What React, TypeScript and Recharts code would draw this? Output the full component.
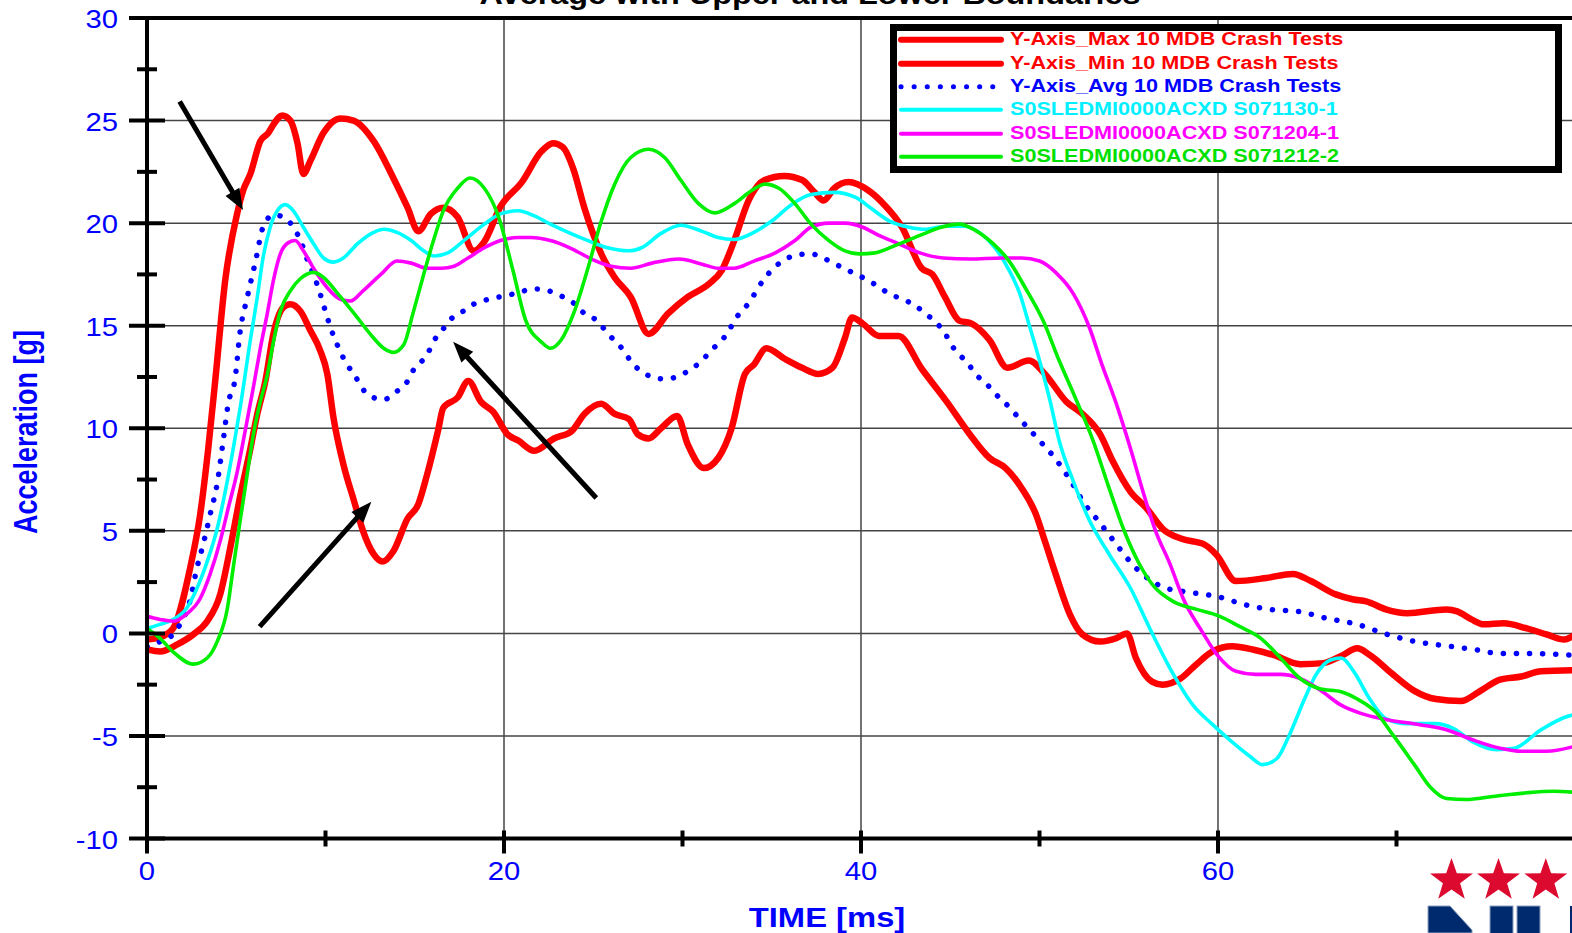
import React from 'react';
import { LineChart, Line, XAxis, YAxis, CartesianGrid, ReferenceLine, Legend } from 'recharts';

// ---- data: [time ms, acceleration g] ----
const maxCurve: [number, number][] = [
  [0, -0.3], [0.7, -0.2], [1.46, 0.24], [2.42, 3.2], [2.98, 5.8], [3.43, 9.0], [3.82, 12.3], [4.38, 17.2],
  [5.06, 20.5], [5.39, 21.6], [5.79, 22.4], [6.35, 24.0], [6.8, 24.4], [7.08, 24.8], [7.58, 25.25], [8.03, 25.0],
  [8.43, 23.9], [8.76, 22.4], [9.16, 23.05], [9.89, 24.4], [10.84, 25.1], [11.57, 25.0], [12.7, 24.0], [13.8, 22.2],
  [14.6, 20.75], [15.2, 19.6], [15.9, 20.45], [16.6, 20.75], [17.4, 20.3], [18.3, 18.65], [18.9, 19.1], [19.8, 20.8],
  [21.0, 22.0], [22.1, 23.5], [22.75, 23.9], [23.3, 23.7], [23.9, 22.6], [24.5, 20.75], [25.45, 18.5], [26.2, 17.35],
  [27.1, 16.4], [28.1, 14.6], [29.2, 15.6], [30.3, 16.4], [31.5, 17.05], [32.2, 17.7], [32.9, 19.15], [33.7, 21.1],
  [34.6, 22.1], [35.7, 22.3], [36.7, 22.1], [37.4, 21.5], [37.9, 21.1], [38.5, 21.7], [39.3, 22.0], [40.4, 21.6],
  [41.3, 20.9], [42.3, 19.8], [43.4, 17.8], [44.0, 17.5], [44.7, 16.4], [45.5, 15.25], [46.2, 15.1], [47.2, 14.3],
  [48.2, 12.95], [49.4, 13.3], [50.3, 12.65], [51.5, 11.3], [52.4, 10.7], [53.4, 9.7], [54.1, 8.4], [55.1, 6.9],
  [56.0, 6.1], [56.9, 5.1], [58.0, 4.6], [59.2, 4.35], [59.9, 3.85], [61.0, 2.55], [62.7, 2.7], [64.2, 2.9],
  [65.2, 2.55], [66.6, 1.9], [67.6, 1.65], [68.3, 1.56], [69.4, 1.17], [70.6, 0.98], [72.8, 1.17], [73.4, 1.07],
  [74.2, 0.68], [74.9, 0.44], [76.0, 0.49], [77.3, 0.24], [78.4, -0.05], [79.4, -0.3], [80, -0.05],
];

const minCurve: [number, number][] = [
  [0, -0.78], [0.73, -0.88], [1.7, -0.54], [2.6, -0.05], [3.37, 0.59], [4.1, 1.9], [4.66, 4.15], [5.2, 6.6],
  [5.79, 9.0], [6.18, 10.7], [6.63, 12.3], [7.08, 14.6], [7.64, 15.9], [8.03, 16.05], [8.6, 15.7], [9.16, 14.75],
  [9.7, 13.8], [10.1, 12.65], [10.45, 10.5], [11.0, 8.25], [11.6, 6.45], [12.1, 5.0], [12.7, 3.86], [13.2, 3.5],
  [13.8, 4.0], [14.6, 5.6], [15.2, 6.3], [15.7, 7.77], [16.3, 9.87], [16.6, 11.0], [17.4, 11.5], [18.0, 12.3],
  [18.7, 11.3], [19.4, 10.8], [20.2, 9.7], [20.8, 9.4], [21.7, 8.9], [22.8, 9.5], [23.8, 9.87], [24.5, 10.7],
  [25.45, 11.2], [26.2, 10.7], [27.0, 10.45], [27.5, 9.7], [28.1, 9.5], [28.8, 10.0], [29.7, 10.6], [30.3, 9.2],
  [31.2, 8.06], [32.0, 8.55], [32.75, 10.0], [33.5, 12.65], [34.0, 13.1], [34.7, 13.9], [35.7, 13.4], [36.7, 12.95],
  [37.6, 12.65], [38.4, 12.95], [39.1, 14.4], [39.5, 15.4], [40.1, 15.1], [41.0, 14.5], [42.1, 14.5], [43.4, 12.9],
  [44.8, 11.3], [46.1, 9.7], [47.2, 8.55], [48.1, 8.06], [49.0, 7.08], [49.8, 5.8], [50.3, 4.5], [50.9, 2.9],
  [51.7, 0.93], [52.4, -0.05], [53.4, -0.4], [54.3, -0.24], [54.9, 0.0], [55.4, -1.2], [56.3, -2.35], [56.9, -2.5],
  [57.9, -2.2], [58.8, -1.5], [59.7, -0.88], [60.8, -0.63], [62.0, -0.8], [63.1, -1.05], [64.6, -1.5], [65.9, -1.45],
  [66.9, -1.1], [67.8, -0.73], [68.5, -1.05], [69.8, -2.0], [71.0, -2.8], [72.2, -3.2], [73.6, -3.3], [74.7, -2.8],
  [75.8, -2.25], [77.0, -2.1], [78.1, -1.85], [80, -1.8],
];

const avgCurve: [number, number][] = [
  [0, -0.63], [0.73, -0.4], [1.46, -0.05], [1.85, 0.44], [2.4, 1.56], [2.8, 3.2], [3.15, 4.35], [3.54, 5.8],
  [3.93, 7.3], [4.27, 9.4], [4.55, 11.2], [4.94, 12.45], [5.2, 14.6], [5.62, 16.4], [6.07, 18.1], [6.5, 19.8],
  [7.08, 20.4], [7.64, 20.3], [8.2, 19.8], [8.6, 19.15], [8.99, 18.2], [9.33, 17.5], [9.72, 16.5], [10.1, 15.4],
  [10.45, 14.5], [10.8, 13.8], [11.2, 13.1], [11.6, 12.65], [11.97, 12.06], [12.5, 11.57], [13.26, 11.4], [14.0, 11.8],
  [14.6, 12.3], [14.9, 12.8], [15.7, 13.6], [16.1, 14.3], [16.6, 14.85], [17.0, 15.3], [17.7, 15.7], [18.3, 16.05],
  [19.2, 16.3], [20, 16.45], [20.8, 16.6], [21.6, 16.8], [22.5, 16.7], [23.2, 16.45], [23.9, 16.1], [24.5, 15.6],
  [25.2, 15.25], [25.6, 14.85], [26.1, 14.35], [26.6, 13.9], [27.0, 13.4], [27.5, 12.9], [28.15, 12.55], [29.0, 12.4],
  [29.8, 12.55], [30.5, 12.9], [31.1, 13.3], [31.6, 13.8], [32.1, 14.2], [32.6, 14.75], [32.9, 15.25], [33.3, 15.7],
  [33.8, 16.2], [34.2, 16.8], [34.6, 17.3], [35.1, 17.8], [35.7, 18.2], [36.4, 18.45], [37.2, 18.5], [38.0, 18.25],
  [38.8, 17.9], [39.5, 17.6], [40.2, 17.3], [40.9, 16.95], [41.6, 16.55], [42.3, 16.3], [43.0, 16.0], [43.6, 15.6],
  [44.2, 15.15], [44.7, 14.65], [45.0, 14.15], [45.5, 13.6], [46.0, 13.15], [46.4, 12.65], [47.0, 12.2], [47.5, 11.7],
  [48.0, 11.3], [49.0, 10.35], [50.0, 9.4], [50.9, 8.5], [51.7, 7.5], [52.5, 6.35], [53.4, 5.37], [54.3, 4.35],
  [55.2, 3.37], [56.3, 2.54], [57.1, 2.2], [58.0, 2.05], [58.8, 1.95], [59.6, 1.85], [60.4, 1.7], [61.2, 1.47],
  [62.0, 1.3], [62.9, 1.17], [64.5, 1.07], [66.1, 0.73], [67.8, 0.44], [69.3, 0.0], [71.0, -0.39], [72.6, -0.59],
  [74.3, -0.78], [75.8, -0.98], [77.5, -0.98], [79.2, -1.03], [80, -1.07],
];

const cyanCurve: [number, number][] = [
  [0, 0.24], [0.73, 0.44], [1.46, 0.68], [2.2, 1.2], [2.8, 2.2], [3.37, 3.5], [3.93, 5.1], [4.38, 6.9],
  [4.83, 9.0], [5.22, 11.0], [5.79, 14.3], [6.18, 16.4], [6.5, 18.3], [6.9, 19.8], [7.3, 20.6], [7.75, 20.9],
  [8.2, 20.6], [8.76, 19.8], [9.33, 19.0], [9.89, 18.3], [10.45, 18.1], [11.0, 18.3], [11.8, 19.0], [12.7, 19.55],
  [13.26, 19.7], [14.0, 19.55], [14.8, 19.15], [15.5, 18.65], [16.1, 18.4], [16.85, 18.55], [17.75, 19.15], [18.9, 19.95],
  [19.8, 20.45], [20.8, 20.6], [21.7, 20.35], [22.6, 19.95], [23.6, 19.55], [24.7, 19.15], [25.8, 18.8], [27.0, 18.65],
  [27.7, 18.8], [28.8, 19.5], [29.9, 19.9], [31.1, 19.6], [32.0, 19.3], [32.9, 19.2], [34.0, 19.55], [35.0, 20.1],
  [36.1, 20.9], [37.2, 21.4], [38.5, 21.5], [39.7, 21.25], [40.6, 20.7], [41.6, 20.1], [42.7, 19.8], [43.6, 19.7],
  [44.7, 19.85], [45.8, 19.85], [46.7, 19.5], [47.5, 18.8], [48.3, 17.7], [48.9, 16.55], [49.4, 15.1], [50.0, 13.3],
  [50.6, 11.3], [51.1, 9.4], [51.9, 7.4], [52.8, 5.5], [53.9, 3.86], [55.1, 2.2], [56.2, 0.2], [57.5, -2.0],
  [58.6, -3.5], [59.7, -4.45], [60.8, -5.3], [61.8, -6.0], [62.5, -6.4], [63.3, -6.1], [64.0, -4.95], [64.8, -3.3],
  [65.5, -2.0], [66.3, -1.3], [66.9, -1.2], [67.6, -1.85], [68.5, -3.2], [69.4, -4.15], [70.6, -4.4], [72.2, -4.4],
  [73.2, -4.64], [74.3, -5.3], [75.6, -5.67], [76.6, -5.6], [78.1, -4.7], [79.4, -4.1], [80, -3.95],
];

const magentaCurve: [number, number][] = [
  [0, 0.83], [0.73, 0.68], [1.46, 0.59], [2.2, 0.93], [2.98, 1.7], [3.54, 2.9], [4.1, 4.5], [4.55, 6.1],
  [5.06, 7.9], [5.5, 9.87], [5.96, 12.0], [6.35, 13.9], [6.74, 15.6], [7.08, 17.2], [7.47, 18.5], [7.92, 19.05],
  [8.3, 19.15], [8.76, 18.65], [9.33, 17.8], [10.1, 16.85], [10.8, 16.3], [11.4, 16.2], [12.1, 16.7], [13.1, 17.5],
  [14.0, 18.15], [14.8, 18.05], [15.7, 17.8], [16.5, 17.8], [17.2, 17.9], [17.98, 18.3], [18.9, 18.8], [19.8, 19.15],
  [20.8, 19.3], [21.5, 19.3], [22.6, 19.15], [23.8, 18.75], [24.9, 18.25], [26.0, 17.9], [27.1, 17.8], [28.3, 18.05],
  [29.8, 18.25], [31.1, 18.0], [32.0, 17.8], [32.9, 17.8], [34.0, 18.15], [35.2, 18.55], [36.3, 19.15], [37.2, 19.8],
  [38.2, 20.0], [39.1, 20.0], [40.1, 19.8], [41.0, 19.4], [42.1, 19.0], [43.3, 18.55], [44.6, 18.3], [46.1, 18.25],
  [47.9, 18.3], [49.0, 18.3], [50.0, 18.15], [50.9, 17.6], [51.9, 16.55], [52.8, 14.9], [53.5, 13.1], [54.3, 11.2],
  [55.1, 9.0], [55.8, 6.9], [56.5, 5.0], [57.3, 3.4], [58.1, 1.6], [59.1, 0.1], [60.0, -1.1], [61.0, -1.85],
  [62.1, -2.0], [63.5, -2.0], [64.6, -2.2], [65.7, -2.75], [66.9, -3.5], [68.0, -3.9], [69.4, -4.2], [71.3, -4.45],
  [72.8, -4.7], [74.3, -5.2], [75.8, -5.6], [77.0, -5.75], [78.4, -5.75], [80, -5.5],
];

const greenCurve: [number, number][] = [
  [0, 0.24], [0.73, -0.24], [1.46, -0.9], [2.6, -1.5], [3.37, -1.2], [3.93, -0.4], [4.5, 1.2], [4.83, 3.2],
  [5.22, 5.5], [5.62, 7.8], [5.96, 9.7], [6.35, 11.3], [6.74, 12.6], [7.08, 14.2], [7.47, 15.7], [8.03, 16.7],
  [8.6, 17.3], [9.33, 17.6], [9.89, 17.35], [10.7, 16.55], [11.6, 15.6], [12.5, 14.6], [13.26, 13.9], [13.8, 13.7],
  [14.4, 14.1], [14.9, 15.6], [15.5, 17.5], [16.1, 19.3], [16.6, 20.6], [17.4, 21.7], [18.1, 22.2], [18.9, 21.7],
  [19.7, 20.3], [20.5, 17.7], [21.2, 15.3], [22.1, 14.2], [22.6, 13.9], [23.2, 14.3], [23.9, 15.6], [24.7, 17.8],
  [25.45, 20.1], [26.2, 21.9], [27.1, 23.2], [28.1, 23.6], [29.0, 23.2], [29.9, 22.1], [30.9, 20.95], [31.8, 20.5],
  [32.9, 20.95], [33.9, 21.6], [34.6, 21.9], [35.4, 21.7], [36.3, 20.95], [37.2, 19.95], [38.2, 19.15], [39.1, 18.65],
  [39.9, 18.5], [40.8, 18.55], [41.9, 18.9], [43.3, 19.4], [44.5, 19.8], [45.5, 19.95], [46.4, 19.65], [47.4, 19.0],
  [48.3, 18.15], [49.2, 16.85], [50.2, 15.25], [51.1, 13.3], [52.0, 11.5], [53.0, 9.4], [53.9, 7.08], [54.7, 5.1],
  [55.6, 3.37], [56.4, 2.3], [57.5, 1.55], [58.8, 1.17], [60.1, 0.83], [61.2, 0.34], [62.4, -0.24], [63.5, -1.2],
  [64.6, -2.2], [65.7, -2.7], [66.9, -2.85], [67.8, -3.2], [68.8, -3.8], [69.8, -4.95], [71.0, -6.4], [71.9, -7.5],
  [72.8, -8.05], [73.9, -8.1], [75.4, -7.95], [77.3, -7.77], [78.8, -7.7], [80, -7.75],
];

const xTicks = [0, 10, 20, 30, 40, 50, 60, 70];
const yTicks = [-10, -7.5, -5, -2.5, 0, 2.5, 5, 7.5, 10, 12.5, 15, 17.5, 20, 22.5, 25, 27.5, 30];
const yGrid = [-5, 0, 5, 10, 15, 20, 25];
const xGrid = [20, 40, 60];

// annotation arrows in data coordinates: [tail, tip]
const arrows: [number, number][][] = [
  [[1.83, 25.93], [5.38, 20.64]],
  [[25.17, 6.6], [17.15, 14.22]],
  [[6.31, 0.33], [12.57, 6.42]],
];

const TITLE = 'Average with Upper and Lower Boundaries';
const X_LABEL = 'TIME [ms]';
const Y_LABEL = 'Acceleration [g]';

const DOTS = '0.1 13';

const SERIES = [
  { key: 'max', name: 'Y-Axis_Max 10 MDB Crash Tests', color: '#ff0000', text: '#ff0000', width: 6.5, dash: undefined as string | undefined, pts: maxCurve },
  { key: 'min', name: 'Y-Axis_Min 10 MDB Crash Tests', color: '#ff0000', text: '#ff0000', width: 6.5, dash: undefined, pts: minCurve },
  { key: 'avg', name: 'Y-Axis_Avg 10 MDB Crash Tests', color: '#0000ff', text: '#0000ff', width: 5.5, dash: DOTS, pts: avgCurve },
  { key: 'cyan', name: 'S0SLEDMI0000ACXD S071130-1', color: '#00ffff', text: '#00f0ff', width: 3.6, dash: undefined, pts: cyanCurve },
  { key: 'mag', name: 'S0SLEDMI0000ACXD S071204-1', color: '#ff00ff', text: '#ff00ff', width: 3.6, dash: undefined, pts: magentaCurve },
  { key: 'green', name: 'S0SLEDMI0000ACXD S071212-2', color: '#00ee00', text: '#00e000', width: 3.6, dash: undefined, pts: greenCurve },
];

const FONT = '"Liberation Sans", Arial, Helvetica, sans-serif';
const BLUE = '#0000ff';

const XTick = (props: any) => {
  const { x, y, payload } = props;
  const v = payload.value as number;
  const major = v % 20 === 0;
  return (
    <g>
      <line x1={x} x2={x} y1={y - 8} y2={y + (major ? 15 : 8)} stroke="#000" strokeWidth={4} />
      {major && (
        <text transform={`translate(${x},${y + 41.5}) scale(1.17,1)`} textAnchor="middle" fontFamily={FONT} fontSize={25} fill={BLUE}>
          {String(v)}
        </text>
      )}
    </g>
  );
};

const YTick = (props: any) => {
  const { x, y, payload } = props;
  const v = payload.value as number;
  const major = v % 5 === 0;
  const h = major ? 18 : 10;
  return (
    <g>
      <line x1={x - h} x2={x + h} y1={y} y2={y} stroke="#000" strokeWidth={4} />
      {major && (
        <text transform={`translate(${x - 29},${y + 10}) scale(1.17,1)`} textAnchor="end" fontFamily={FONT} fontSize={25} fill={BLUE}>
          {String(v)}
        </text>
      )}
    </g>
  );
};

const ArrowShape = (p: any) => {
  const { x1, y1, x2, y2 } = p;
  const dx = x2 - x1;
  const dy = y2 - y1;
  const len = Math.hypot(dx, dy) || 1;
  const ux = dx / len;
  const uy = dy / len;
  const hl = 21;
  const hw = 8;
  const bx = x2 - ux * hl;
  const by = y2 - uy * hl;
  return (
    <g>
      <line x1={x1} y1={y1} x2={bx + ux * 2} y2={by + uy * 2} stroke="#000" strokeWidth={5} />
      <polygon points={`${x2},${y2} ${bx - uy * hw},${by + ux * hw} ${bx + uy * hw},${by - ux * hw}`} fill="#000" />
    </g>
  );
};

const LegendBox = () => (
  <div style={{ position: 'relative', width: 658, height: 135, border: '7px solid #000', background: '#fff', boxSizing: 'content-box' }}>
    {SERIES.map((s, i) => (
      <div key={s.key} style={{ position: 'absolute', left: 0, top: -2.7 + 23.33 * i, height: 23.33, width: '100%' }}>
        <svg width={110} height={24} style={{ position: 'absolute', left: 0, top: 0, overflow: 'visible' }}>
          <line x1={4} x2={104} y1={11.7} y2={11.7} stroke={s.color} strokeWidth={s.key === 'max' || s.key === 'min' ? 6 : s.key === 'avg' ? 5 : 4} strokeLinecap="round" strokeDasharray={s.dash} />
        </svg>
        <span
          style={{
            position: 'absolute', left: 113, top: 0, lineHeight: '23.33px', fontFamily: FONT, fontWeight: 'bold',
            fontSize: 18, color: s.text, transform: 'scaleX(1.2)', transformOrigin: 'left center', whiteSpace: 'nowrap',
          }}
        >
          {s.name}
        </span>
      </div>
    ))}
  </div>
);

const starPoints = (cx: number, cy: number, r: number) => {
  const pts: string[] = [];
  for (let i = 0; i < 10; i++) {
    const rad = i % 2 === 0 ? r : r * 0.4;
    const a = -Math.PI / 2 + (i * Math.PI) / 5;
    pts.push(`${cx + rad * Math.cos(a)},${cy + rad * Math.sin(a)}`);
  }
  return pts.join(' ');
};

export default function App() {
  return (
    <div style={{ position: 'absolute', left: 0, top: 0, width: 1572, height: 933, overflow: 'hidden', background: '#fff' }}>
      <LineChart width={1576} height={933} margin={{ top: 18, right: 1, bottom: 34.5, left: 87 }}>
        <CartesianGrid horizontalValues={yGrid} verticalValues={xGrid} stroke="#444" strokeWidth={1.5} />
        <XAxis
          type="number"
          dataKey="t"
          domain={[0, 80]}
          ticks={xTicks}
          interval={0}
          height={60}
          tickSize={0}
          tickMargin={0}
          tickLine={false}
          tick={<XTick />}
          axisLine={{ stroke: '#000', strokeWidth: 4 }}
          allowDataOverflow
        />
        <YAxis
          type="number"
          domain={[-10, 30]}
          ticks={yTicks}
          interval={0}
          width={60}
          tickSize={0}
          tickMargin={0}
          tickLine={false}
          tick={<YTick />}
          axisLine={{ stroke: '#000', strokeWidth: 4 }}
          allowDataOverflow
        />
        <ReferenceLine y={30} stroke="#000" strokeWidth={4} ifOverflow="visible" />
        {SERIES.map((s) => (
          <Line
            key={s.key}
            data={s.pts.map(([t, v]) => ({ t, v }))}
            dataKey="v"
            name={s.name}
            type="monotone"
            stroke={s.color}
            strokeWidth={s.width}
            strokeDasharray={s.dash}
            strokeLinecap="round"
            strokeLinejoin="round"
            dot={false}
            activeDot={false}
            isAnimationActive={false}
          />
        ))}
        {arrows.map((a, i) => (
          <ReferenceLine
            key={`arrow-${i}`}
            segment={[{ x: a[0][0], y: a[0][1] }, { x: a[1][0], y: a[1][1] }]}
            ifOverflow="visible"
            shape={ArrowShape}
          />
        ))}
        <Legend
          layout="horizontal"
          verticalAlign="middle"
          align="center"
          content={() => <LegendBox />}
          wrapperStyle={{ left: 890, top: 24, width: 672, height: 149 }}
        />
      </LineChart>
      <svg width={1572} height={933} style={{ position: 'absolute', left: 0, top: 0, pointerEvents: 'none' }}>
        <text transform="translate(810,4) scale(1.2,1)" textAnchor="middle" fontFamily={FONT} fontWeight="bold" fontSize={27} fill="#000">
          {TITLE}
        </text>
        <text transform="translate(827,927) scale(1.17,1)" textAnchor="middle" fontFamily={FONT} fontWeight="bold" fontSize={28} fill={BLUE}>
          {X_LABEL}
        </text>
        <text transform="translate(37,432) rotate(-90) scale(1,1.2)" textAnchor="middle" fontFamily={FONT} fontWeight="bold" fontSize={27} fill={BLUE}>
          {Y_LABEL}
        </text>
        {[1451.5, 1498.5, 1545.8].map((cx) => (
          <polygon key={cx} points={starPoints(cx, 880.5, 22.6)} fill="#dc0a2e" />
        ))}
        <polygon points="1428,906 1450,906 1472,930 1472,933 1428,933" fill="#002a6e" stroke="#8fa0c0" strokeWidth={1} />
        <rect x={1490} y={906} width={23} height={30} fill="#002a6e" stroke="#8fa0c0" strokeWidth={1} />
        <rect x={1517} y={906} width={23} height={30} fill="#002a6e" stroke="#8fa0c0" strokeWidth={1} />
        <rect x={1570} y={906} width={6} height={30} fill="#002a6e" />
      </svg>
    </div>
  );
}
